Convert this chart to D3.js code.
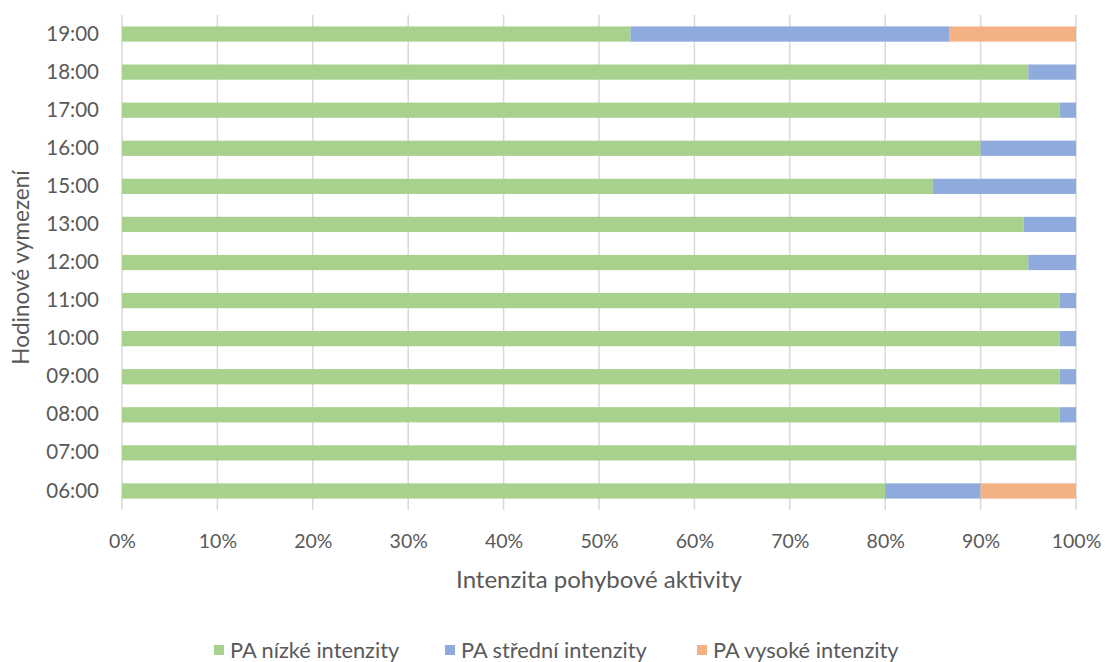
<!DOCTYPE html>
<html>
<head>
<meta charset="utf-8">
<script src="https://cdn.jsdelivr.net/npm/d3@7"></script>
<style>
  body { margin: 0; background: #fff; }
  svg text { font-family: Lato, "Open Sans", sans-serif; fill: #595959; }
</style>
</head>
<body>
<div id="chart"></div>
<script>
// hours, bottom to top as drawn
let hours = ["06:00", "07:00", "08:00", "09:00", "10:00", "11:00", "12:00", "13:00", "15:00", "16:00", "17:00", "18:00", "19:00"];
let lowIntensity = [80, 100, 98.3, 98.3, 98.3, 98.3, 95, 94.5, 85, 90, 98.3, 95, 53.3];
let midIntensity = [10, 0, 1.7, 1.7, 1.7, 1.7, 5, 5.5, 15, 10, 1.7, 5, 33.4];
let highIntensity = [10, 0, 0, 0, 0, 0, 0, 0, 0, 0, 0, 0, 13.3];
let seriesNames = ["PA nízké intenzity", "PA střední intenzity", "PA vysoké intenzity"];
let seriesColors = ["#A9D18E", "#8FAADC", "#F4B183"];
let xTicks = [0, 0.1, 0.2, 0.3, 0.4, 0.5, 0.6, 0.7, 0.8, 0.9, 1];

let margin = { top: 15, right: 29, bottom: 152, left: 122 };
let width = 1105 - margin.left - margin.right;
let height = 662 - margin.top - margin.bottom;

let svg = d3.select("#chart")
  .append("svg")
  .attr("width", 1105)
  .attr("height", 662);

let g = svg.append("g")
  .attr("transform", "translate(" + margin.left + "," + margin.top + ")");

// build rows as shares of the total
let rows = hours.map(function(h, i) {
  let total = lowIntensity[i] + midIntensity[i] + highIntensity[i];
  return { hour: h, low: lowIntensity[i] / total, mid: midIntensity[i] / total, high: highIntensity[i] / total };
});

let stacked = d3.stack().keys(["low", "mid", "high"])(rows);

let x = d3.scaleLinear().domain([0, 1]).range([0, width]);
let y = d3.scaleBand()
  .domain(hours.slice().reverse())
  .range([0, height])
  .paddingInner(0.6)
  .paddingOuter(0.3);

// gridlines
g.append("g")
  .selectAll("line")
  .data(xTicks)
  .enter().append("line")
  .attr("x1", d => x(d))
  .attr("x2", d => x(d))
  .attr("y1", 0)
  .attr("y2", height)
  .style("stroke", "#D9D9D9")
  .style("stroke-width", 1.5);

// bars
g.selectAll("g.series")
  .data(stacked)
  .enter().append("g")
  .attr("class", "series")
  .style("fill", (d, i) => seriesColors[i])
  .selectAll("rect")
  .data(d => d)
  .enter().append("rect")
  .attr("x", d => x(d[0]))
  .attr("y", d => y(d.data.hour))
  .attr("width", d => x(d[1]) - x(d[0]))
  .attr("height", y.bandwidth());

// x axis labels
let xAxis = g.append("g")
  .attr("transform", "translate(0," + height + ")")
  .call(d3.axisBottom(x).tickValues(xTicks).tickFormat(d3.format(".0%")).tickSize(0).tickPadding(24));
xAxis.select(".domain").remove();
xAxis.selectAll("text").style("font-size", "19.5px").style("fill", "#595959").style("font-family", "Lato, sans-serif");

// y axis labels
let yAxis = g.append("g")
  .call(d3.axisLeft(y).tickSize(0).tickPadding(23));
yAxis.select(".domain").remove();
yAxis.selectAll("text").style("font-size", "20.5px").style("fill", "#595959").style("font-family", "Lato, sans-serif");

// axis titles
svg.append("text")
  .attr("x", margin.left + width / 2)
  .attr("y", 588)
  .attr("text-anchor", "middle")
  .style("font-size", "24px")
  .text("Intenzita pohybové aktivity");

svg.append("text")
  .attr("transform", "translate(29," + (margin.top + height / 2 + 5) + ") rotate(-90)")
  .attr("text-anchor", "middle")
  .style("font-size", "22.5px")
  .text("Hodinové vymezení");

// legend
let legendX = [214, 445, 697];
let legend = svg.selectAll("g.legend")
  .data(seriesNames)
  .enter().append("g")
  .attr("class", "legend")
  .attr("transform", (d, i) => "translate(" + legendX[i] + ",645)");

legend.append("rect")
  .attr("width", 10)
  .attr("height", 10)
  .style("fill", (d, i) => seriesColors[i]);

legend.append("text")
  .attr("x", 16)
  .attr("y", 13)
  .style("font-size", "21.8px")
  .text(d => d);
</script>
</body>
</html>
